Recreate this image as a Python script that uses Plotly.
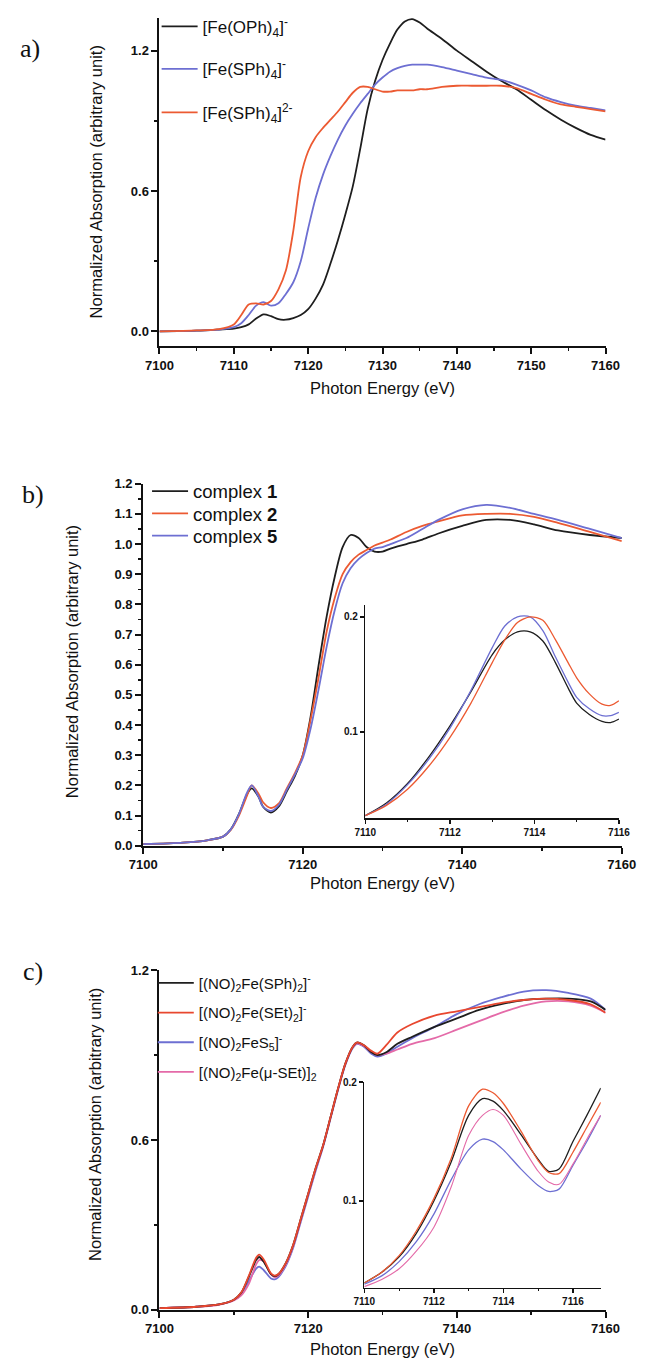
import plotly.graph_objects as go

# ---------------- Panel a ----------------
A_ENERGY = [7100, 7105, 7108, 7110, 7111, 7112, 7113, 7114, 7115, 7116, 7117, 7118, 7119, 7120,
            7121, 7122, 7123, 7124, 7125, 7126, 7127, 7128, 7129, 7130, 7131, 7132, 7133, 7134,
            7135, 7136, 7138, 7140, 7142, 7144, 7146, 7148, 7150, 7152, 7154, 7156, 7158, 7160]
A_FE_OPH4 = [0.0, 0.003, 0.008, 0.012, 0.018, 0.03, 0.055, 0.073, 0.065, 0.052, 0.05, 0.057, 0.07, 0.095,
             0.14, 0.2, 0.29, 0.39, 0.5, 0.62, 0.78, 0.95, 1.07, 1.16, 1.23, 1.29, 1.325, 1.335,
             1.32, 1.295, 1.25, 1.2, 1.155, 1.11, 1.07, 1.035, 0.99, 0.945, 0.905, 0.87, 0.84, 0.82]
A_FE_SPH4_1 = [0.0, 0.003, 0.008, 0.018, 0.035, 0.07, 0.11, 0.125, 0.11, 0.12, 0.16, 0.21, 0.3, 0.44,
               0.57, 0.67, 0.75, 0.82, 0.88, 0.93, 0.975, 1.015, 1.055, 1.085, 1.11, 1.125, 1.135, 1.14,
               1.14, 1.14, 1.13, 1.115, 1.1, 1.085, 1.075, 1.055, 1.03, 1.0, 0.98, 0.965, 0.955, 0.945]
A_FE_SPH4_2 = [0.0, 0.004, 0.01, 0.03, 0.07, 0.115, 0.12, 0.115, 0.13, 0.18, 0.26, 0.43, 0.66, 0.77,
               0.83, 0.87, 0.905, 0.94, 0.98, 1.02, 1.045, 1.045, 1.035, 1.025, 1.025, 1.03, 1.03, 1.03,
               1.035, 1.035, 1.045, 1.05, 1.05, 1.05, 1.05, 1.04, 1.015, 0.99, 0.97, 0.96, 0.95, 0.94]
A_NAMES = ["[Fe(OPh)<sub>4</sub>]<sup>-</sup>", "[Fe(SPh)<sub>4</sub>]<sup>-</sup>",
           "[Fe(SPh)<sub>4</sub>]<sup>2-</sup>"]

# ---------------- Panel b ----------------
B_ENERGY = [7100, 7105, 7108, 7110, 7111, 7112, 7113, 7113.6, 7114.5, 7115, 7116, 7117, 7118, 7119,
            7120, 7121, 7122, 7123, 7124, 7125, 7126, 7127, 7128, 7129, 7130, 7131, 7133, 7135,
            7137, 7140, 7143, 7146, 7149, 7152, 7156, 7160]
B_COMPLEX1 = [0.005, 0.01, 0.018, 0.03, 0.055, 0.105, 0.17, 0.19, 0.16, 0.13, 0.11, 0.13, 0.18, 0.23,
              0.3, 0.43, 0.6, 0.76, 0.89, 0.99, 1.03, 1.02, 0.99, 0.975, 0.975, 0.985, 1.0, 1.015,
              1.035, 1.06, 1.08, 1.08, 1.065, 1.045, 1.03, 1.02]
B_COMPLEX2 = [0.005, 0.01, 0.018, 0.03, 0.053, 0.1, 0.165, 0.2, 0.17, 0.145, 0.125, 0.14, 0.19, 0.24,
              0.3, 0.42, 0.56, 0.71, 0.82, 0.9, 0.94, 0.965, 0.98, 0.995, 1.005, 1.015, 1.04, 1.06,
              1.075, 1.095, 1.1, 1.1, 1.09, 1.07, 1.04, 1.01]
B_COMPLEX5 = [0.005, 0.01, 0.018, 0.03, 0.055, 0.105, 0.175, 0.2, 0.16, 0.13, 0.115, 0.135, 0.185, 0.235,
              0.29, 0.39, 0.52, 0.66, 0.78, 0.87, 0.92, 0.95, 0.97, 0.985, 0.99, 1.0, 1.02, 1.05,
              1.08, 1.115, 1.13, 1.12, 1.1, 1.08, 1.05, 1.02]
B_NAMES = ["complex <b>1</b>", "complex <b>2</b>", "complex <b>5</b>"]

B_INSET_ENERGY = [7110, 7110.5, 7111, 7111.5, 7112, 7112.5, 7113, 7113.3, 7113.6, 7113.9, 7114.2,
                  7114.5, 7114.8, 7115, 7115.3, 7115.6, 7115.8, 7116]
B_INSET_C1 = [0.027, 0.038, 0.055, 0.078, 0.105, 0.135, 0.167, 0.18, 0.187, 0.187, 0.179,
              0.16, 0.138, 0.125, 0.115, 0.109, 0.108, 0.111]
B_INSET_C2 = [0.027, 0.036, 0.05, 0.07, 0.095, 0.125, 0.16, 0.18, 0.195, 0.2, 0.197,
              0.18, 0.16, 0.147, 0.133, 0.124, 0.123, 0.127]
B_INSET_C5 = [0.027, 0.037, 0.054, 0.076, 0.103, 0.136, 0.173, 0.192, 0.2, 0.2, 0.188,
              0.165, 0.143, 0.13, 0.12, 0.114, 0.114, 0.117]

# ---------------- Panel c ----------------
C_ENERGY = [7100, 7105, 7108, 7110, 7111, 7112, 7113, 7113.4, 7114, 7115, 7115.5, 7116, 7117, 7118,
            7119, 7120, 7121, 7122, 7123, 7124, 7125, 7126, 7126.6, 7127.5, 7128.5, 7129.3, 7130.5,
            7132, 7134, 7137, 7140, 7143, 7146, 7149, 7152, 7155, 7158, 7160]
C_SPH2 = [0.005, 0.01, 0.018, 0.035, 0.06, 0.115, 0.175, 0.186, 0.17, 0.125, 0.118, 0.125, 0.165, 0.23,
          0.32, 0.41, 0.5, 0.58, 0.68, 0.78, 0.87, 0.93, 0.945, 0.935, 0.91, 0.9, 0.91,
          0.94, 0.965, 1.0, 1.03, 1.06, 1.08, 1.095, 1.1, 1.1, 1.09, 1.06]
C_SET2 = [0.005, 0.01, 0.018, 0.035, 0.06, 0.118, 0.183, 0.194, 0.178, 0.128, 0.12, 0.126, 0.165, 0.23,
          0.32, 0.41, 0.5, 0.58, 0.68, 0.78, 0.87, 0.93, 0.945, 0.935, 0.915, 0.905, 0.935,
          0.98, 1.01, 1.04, 1.055, 1.07, 1.085, 1.095, 1.1, 1.095, 1.08, 1.05]
C_S5 = [0.005, 0.01, 0.018, 0.034, 0.055, 0.1, 0.145, 0.152, 0.14, 0.11, 0.107, 0.115, 0.155, 0.22,
        0.31, 0.4, 0.49, 0.575, 0.675, 0.775, 0.865, 0.925, 0.94, 0.93, 0.905, 0.895, 0.905,
        0.93, 0.96, 1.0, 1.045, 1.08, 1.105, 1.125, 1.13, 1.12, 1.1, 1.06]
C_MU_SET = [0.005, 0.01, 0.017, 0.032, 0.05, 0.09, 0.16, 0.175, 0.17, 0.124, 0.114, 0.12, 0.16, 0.225,
            0.315, 0.405, 0.495, 0.578, 0.678, 0.778, 0.868, 0.928, 0.942, 0.932, 0.91, 0.9, 0.905,
            0.92, 0.94, 0.96, 0.99, 1.02, 1.05, 1.075, 1.09, 1.09, 1.075, 1.05]
C_NAMES = ["[(NO)<sub>2</sub>Fe(SPh)<sub>2</sub>]<sup>-</sup>",
           "[(NO)<sub>2</sub>Fe(SEt)<sub>2</sub>]<sup>-</sup>",
           "[(NO)<sub>2</sub>FeS<sub>5</sub>]<sup>-</sup>",
           "[(NO)<sub>2</sub>Fe(\u03bc-SEt)]<sub>2</sub>"]

C_INSET_ENERGY = [7110, 7110.5, 7111, 7111.5, 7112, 7112.5, 7113, 7113.4, 7113.7, 7114, 7114.5,
                  7115, 7115.3, 7115.6, 7116, 7116.4, 7116.8]
C_INSET_SPH2 = [0.031, 0.04, 0.053, 0.073, 0.1, 0.133, 0.172, 0.186, 0.184, 0.176, 0.156,
                0.135, 0.125, 0.127, 0.15, 0.172, 0.195]
C_INSET_SET2 = [0.031, 0.04, 0.054, 0.075, 0.102, 0.136, 0.18, 0.194, 0.191, 0.182, 0.159,
                0.134, 0.124, 0.123, 0.141, 0.162, 0.183]
C_INSET_S5 = [0.03, 0.037, 0.049, 0.066, 0.089, 0.118, 0.143, 0.152, 0.15, 0.143, 0.127,
              0.113, 0.108, 0.11, 0.13, 0.15, 0.172]
C_INSET_MU = [0.028, 0.034, 0.043, 0.058, 0.078, 0.112, 0.155, 0.172, 0.177, 0.172, 0.148,
              0.125, 0.116, 0.114, 0.131, 0.152, 0.172]

BLACK = "#1e1e1e"
ORANGE = "#ec5a32"
BLUE = "#6d6fd2"
PINK = "#e46aa8"
RED = "#e8472f"

W, H = 654, 1368


def px(x):
    return x / W


def py(y):
    return 1 - y / H


fig = go.Figure()
LEGENDS = {}
LEGFONT = dict(family="Liberation Sans", color="#111")


def add(xs, ys, color, xa, ya, name=None, leg=None, width=1.8):
    """leg = (legend id, x_px, center_y_px, font size)"""
    lid = "legend"
    if leg is not None:
        lid, lx, ly, fs = leg
        LEGENDS[lid] = dict(x=px(lx), y=py(ly), xanchor="left", yanchor="middle",
                            bgcolor="rgba(0,0,0,0)", font=dict(LEGFONT, size=fs),
                            itemwidth=36, borderwidth=0)
    fig.add_trace(go.Scatter(
        x=xs, y=ys, mode="lines", xaxis=xa, yaxis=ya,
        line=dict(color=color, width=width, shape="spline", smoothing=0.8),
        name=name or "", showlegend=leg is not None, legend=lid, hoverinfo="skip"))


# panel a
add(A_ENERGY, A_FE_OPH4, BLACK, "x", "y", A_NAMES[0], ("legend", 149, 20, 17))
add(A_ENERGY, A_FE_SPH4_1, BLUE, "x", "y", A_NAMES[1], ("legend2", 149, 63, 17))
add(A_ENERGY, A_FE_SPH4_2, ORANGE, "x", "y", A_NAMES[2], ("legend3", 149, 107, 17))
# panel b
add(B_ENERGY, B_COMPLEX1, BLACK, "x2", "y2", B_NAMES[0], ("legend4", 139, 490, 18.5))
add(B_ENERGY, B_COMPLEX2, ORANGE, "x2", "y2", B_NAMES[1], ("legend5", 139, 512.5, 18.5))
add(B_ENERGY, B_COMPLEX5, BLUE, "x2", "y2", B_NAMES[2], ("legend6", 139, 535, 18.5))
add(B_INSET_ENERGY, B_INSET_C1, BLACK, "x3", "y3", width=1.3)
add(B_INSET_ENERGY, B_INSET_C5, BLUE, "x3", "y3", width=1.3)
add(B_INSET_ENERGY, B_INSET_C2, ORANGE, "x3", "y3", width=1.3)
# panel c
add(C_ENERGY, C_S5, BLUE, "x4", "y4", C_NAMES[2], ("legend9", 145, 1047, 15))
add(C_ENERGY, C_MU_SET, PINK, "x4", "y4", C_NAMES[3], ("legend10", 145, 1077, 15))
add(C_ENERGY, C_SPH2, BLACK, "x4", "y4", C_NAMES[0], ("legend7", 145, 987, 15))
add(C_ENERGY, C_SET2, RED, "x4", "y4", C_NAMES[1], ("legend8", 145, 1017, 15))
add(C_INSET_ENERGY, C_INSET_SPH2, BLACK, "x5", "y5", width=1.3)
add(C_INSET_ENERGY, C_INSET_SET2, ORANGE, "x5", "y5", width=1.3)
add(C_INSET_ENERGY, C_INSET_S5, BLUE, "x5", "y5", width=1.3)
add(C_INSET_ENERGY, C_INSET_MU, PINK, "x5", "y5", width=1.1)

TICKFONT = dict(family="Liberation Sans", size=13, color="#111", weight="bold")
SMALLFONT = dict(family="Liberation Sans", size=10, color="#111", weight="bold")


def axis(domain, rng, dtick, minor_dtick, anchor, font=TICKFONT, lw=2, tl=6, tick0=None, fmt=None):
    d = dict(domain=domain, range=rng, anchor=anchor, showline=True, linecolor="#111",
             linewidth=lw, ticks="outside", ticklen=tl, tickwidth=lw, tickcolor="#111",
             dtick=dtick, tickfont=font, showgrid=False, zeroline=False, mirror=False,
             minor=dict(dtick=minor_dtick, ticks="outside", ticklen=max(2, tl // 2),
                        tickwidth=max(1, lw - 0.5), tickcolor="#111", showgrid=False),
             fixedrange=True)
    if tick0 is not None:
        d["tick0"] = tick0
        d["minor"]["tick0"] = tick0
    if fmt:
        d["tickformat"] = fmt
    return d


layout = dict(
    width=W, height=H, autosize=False, margin=dict(l=0, r=0, t=0, b=0),
    paper_bgcolor="white", plot_bgcolor="white",
    xaxis=axis([px(152), px(618)], [7100, 7160], 10, 5, "y", tick0=7100, fmt="d"),
    yaxis=axis([py(343), py(11)], [-0.0634, 1.34], 0.6, 0.3, "x", tick0=0, fmt=".1f"),
    xaxis2=axis([px(135), px(635)], [7100, 7160], 20, 10, "y2", tick0=7100, fmt="d"),
    yaxis2=axis([py(848), py(482)], [0, 1.2], 0.1, 0.05, "x2", tick0=0, fmt=".1f"),
    xaxis3=axis([px(367), px(632)], [7110, 7116], 2, 1, "y3", font=SMALLFONT, lw=1.5, tl=4,
                tick0=7110, fmt="d"),
    yaxis3=axis([py(820), py(605)], [0.025, 0.21], 0.1, 0.1, "x3", font=SMALLFONT, lw=1.5, tl=4,
                tick0=0, fmt=".1f"),
    xaxis4=axis([px(152), px(618)], [7100, 7160], 20, 10, "y4", tick0=7100, fmt="d"),
    yaxis4=axis([py(1317), py(974)], [0, 1.2], 0.6, 0.3, "x4", tick0=0, fmt=".1f"),
    xaxis5=axis([px(366), px(613)], [7110, 7116.8], 2, 1, "y5", font=SMALLFONT, lw=1.5, tl=4,
                tick0=7110, fmt="d"),
    yaxis5=axis([py(1295), py(1087)], [0.027, 0.2], 0.1, 0.1, "x5", font=SMALLFONT, lw=1.5, tl=4,
                tick0=0, fmt=".1f"),
    showlegend=True,
)
layout.update(LEGENDS)
fig.update_layout(**layout)

ann = []
TITLEFONT = dict(family="Liberation Sans", size=16.5, color="#111")
LABELFONT = dict(family="Liberation Serif", size=26, color="#111")
for (x, y, t) in [(385, 385, "Photon Energy (eV)"), (385, 886, "Photon Energy (eV)"),
                  (385, 1357, "Photon Energy (eV)")]:
    ann.append(dict(x=px(x), y=py(y), xref="paper", yref="paper", text=t, showarrow=False,
                    font=TITLEFONT, xanchor="center", yanchor="middle"))
for (x, y) in [(86, 177), (60, 662), (84, 1130)]:
    ann.append(dict(x=px(x), y=py(y), xref="paper", yref="paper",
                    text="Normalized Absorption (arbitrary unit)", showarrow=False,
                    font=TITLEFONT, textangle=-90, xanchor="center", yanchor="middle"))
for (x, y, t) in [(17, 42, "a)"), (20, 493, "b)"), (20, 975, "c)")]:
    ann.append(dict(x=px(x), y=py(y), xref="paper", yref="paper", text=t, showarrow=False,
                    font=LABELFONT, xanchor="center", yanchor="middle"))
fig.update_layout(annotations=ann)

fig.write_html(
    "out.html",
    config={"displayModeBar": False, "staticPlot": True},
    post_script="document.documentElement.style.margin='0';document.body.style.margin='0';"
                "document.body.style.overflow='hidden';document.documentElement.style.overflow='hidden';")
